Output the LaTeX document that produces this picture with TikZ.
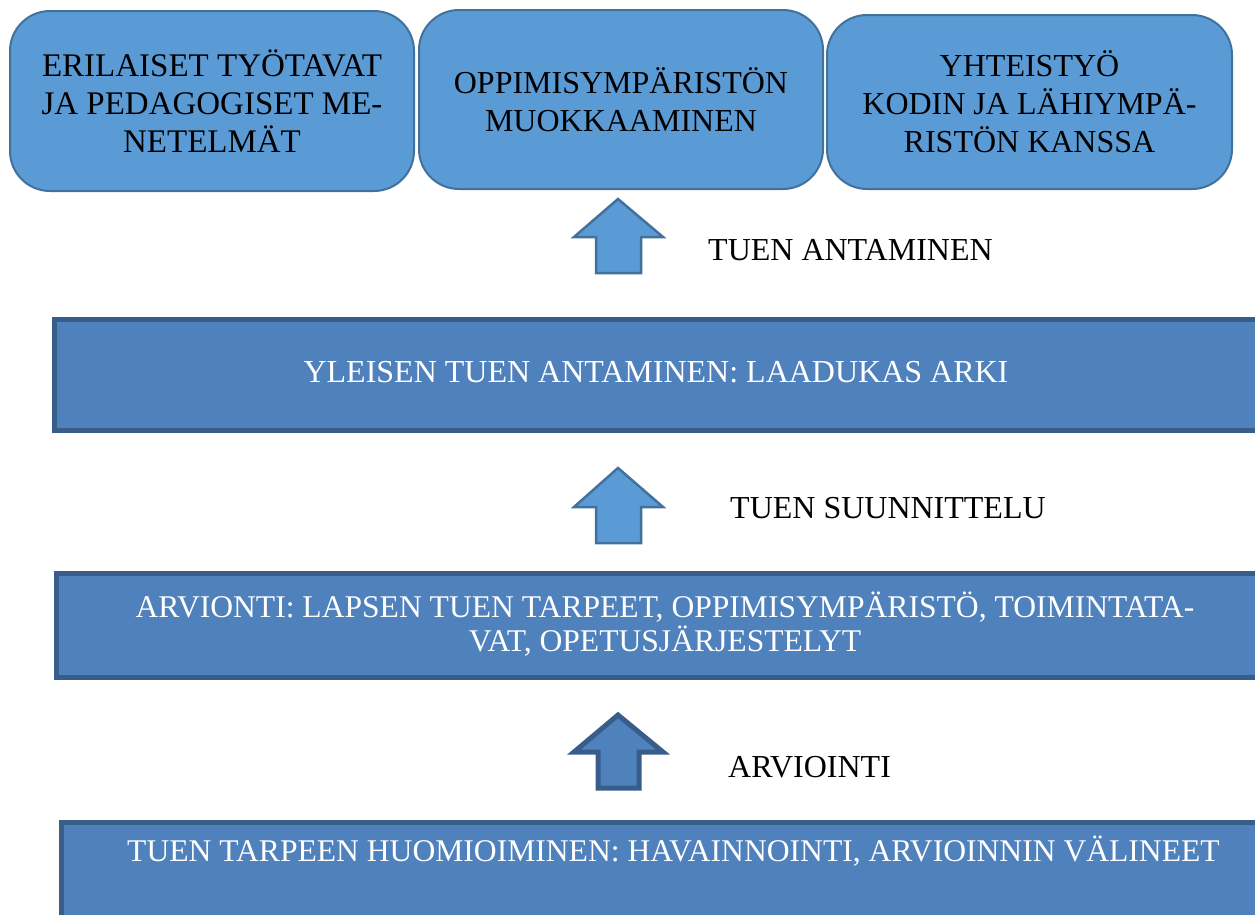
\documentclass[tikz,border=0pt]{standalone}
\usepackage{fontspec}
\setmainfont{Liberation Serif}
\definecolor{lightfill}{HTML}{5B9BD5}
\definecolor{lightline}{HTML}{41719C}
\definecolor{darkfill}{HTML}{4F81BD}
\definecolor{darkline}{HTML}{385D8A}
\begin{document}
\begin{tikzpicture}[x=1pt,y=-1pt,
  topbox/.style={draw=lightline,fill=lightfill,line width=2pt,rounded corners=40pt,
    inner sep=0pt,anchor=north west},
  widebox/.style={draw=darkline,fill=darkfill,line width=5pt,inner sep=0pt,anchor=north west},
  uparrowlight/.style={draw=lightline,fill=lightfill,line width=2.5pt,line join=miter},
  uparrowdark/.style={draw=darkline,fill=darkfill,line width=5pt,line join=miter},
  bigtext/.style={font=\fontsize{32}{38}\selectfont,inner sep=0pt,align=center},
  whitetext/.style={font=\fontsize{31.6}{34}\selectfont,inner sep=0pt,text=white}]
\useasboundingbox (0,0) rectangle (1255,914);
\clip (0,0) rectangle (1255,914);

% top boxes
\node[topbox,minimum width=404pt,minimum height=180pt] (b1) at (9,10) {};
\node[topbox,minimum width=404pt,minimum height=179pt] (b2) at (418,9) {};
\node[topbox,minimum width=405pt,minimum height=174pt] (b3) at (826,14) {};
\node[bigtext,font=\fontsize{33}{38}\selectfont] (t1) at (b1.center) {ERILAISET TYÖTAVAT\\JA PEDAGOGISET ME-\\NETELMÄT};
\node[bigtext] (t2) at (b2.center) {OPPIMISYMPÄRISTÖN\\MUOKKAAMINEN};
\node[bigtext] (t3) at (b3.center) {YHTEISTYÖ\\KODIN JA LÄHIYMPÄ-\\RISTÖN KANSSA};

% arrows
\draw[uparrowlight] (618,199) -- (663,237) -- (641,237) -- (641,273) -- (596,273) -- (596,237) -- (574,237) -- cycle;
\draw[uparrowlight] (618,468) -- (663,507) -- (641,507) -- (641,543) -- (596,543) -- (596,507) -- (574,507) -- cycle;
\draw[uparrowdark] (618,715) -- (663,752) -- (639,752) -- (639,788) -- (598,788) -- (598,752) -- (574,752) -- cycle;

\node[font=\fontsize{32}{38}\selectfont,inner sep=0pt,anchor=west] (l1) at (708,250) {TUEN ANTAMINEN};
\node[font=\fontsize{32}{38}\selectfont,inner sep=0pt,anchor=west] (l2) at (730,508) {TUEN SUUNNITTELU};
\node[font=\fontsize{32}{38}\selectfont,inner sep=0pt,anchor=west] (l3) at (728,767) {ARVIOINTI};

% wide boxes
\node[widebox,minimum width=1240pt,minimum height=111pt] (w1) at (52,317) {};
\node[whitetext,font=\fontsize{32}{34}\selectfont,anchor=center] (wt1) at (656,372) {YLEISEN TUEN ANTAMINEN: LAADUKAS ARKI};

\node[widebox,minimum width=1240pt,minimum height=104pt] (w2) at (54,571) {};
\node[whitetext,anchor=center,align=center] (wt2) at (665,624) {ARVIONTI: LAPSEN TUEN TARPEET, OPPIMISYMPÄRISTÖ, TOIMINTATA-\\VAT, OPETUSJÄRJESTELYT};

\node[widebox,minimum width=1240pt,minimum height=140pt] (w3) at (59,820) {};
\node[whitetext,anchor=west] (wt3) at (127,851) {TUEN TARPEEN HUOMIOIMINEN: HAVAINNOINTI, ARVIOINNIN VÄLINEET};
\end{tikzpicture}
\end{document}
